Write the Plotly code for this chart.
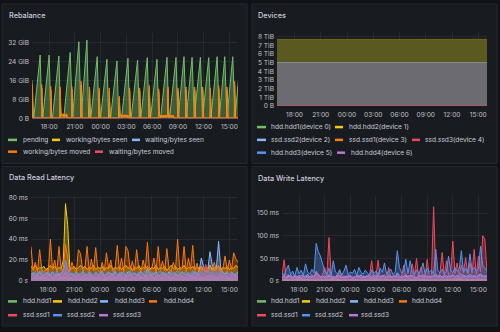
import plotly.graph_objects as go
from datetime import datetime, timedelta

W, H = 500, 332
BASE = datetime(2024, 5, 1, 16, 0)

GREEN = "#73BF69"; YELLOW = "#F2CC0C"; LBLUE = "#8AB8FF"; ORANGE = "#FF780A"
RED = "#F2495C"; BLUE = "#5794F2"; PURPLE = "#B877D9"
GRID = "rgba(204,204,220,0.08)"
TICK = "#c2c2cc"
TXT = "#ccccdc"
FONT = "Inter"

tick_hours = [2, 5, 8, 11, 14, 17, 20, 23]
tick_labels = ["18:00", "21:00", "00:00", "03:00", "06:00", "09:00", "12:00", "15:00"]

# ---------------- Rebalance (GiB) ----------------
pending_h = [0.00, 0.08,
             0.20, 0.95, 1.15, 1.25, 2.00, 2.20, 2.38, 3.13, 3.33,
             3.70, 4.45, 4.65, 4.72, 5.46, 5.66, 5.72, 6.40, 6.60,
             6.85, 7.60, 7.80, 7.98, 8.73, 8.93, 9.15, 9.90, 10.10,
             10.43, 11.18, 11.38, 11.55, 12.30, 12.50, 12.68, 13.43, 13.63,
             13.81, 14.56, 14.76, 14.98, 15.73, 15.93, 16.03, 16.78, 16.98,
             17.03, 17.71, 17.91, 17.96, 18.65, 18.85, 18.90, 19.62, 19.82,
             19.87, 20.59, 20.79, 20.84, 21.57, 21.77, 21.82, 22.46, 22.66,
             22.71, 23.39, 23.59, 23.64, 24.05]
pending_gib = [16.0, 0,
               0, 26.7, 0, 0, 26.7, 0, 0, 26.3, 0,
               0, 27.8, 0, 0, 32.3, 0, 0, 33.0, 0,
               0, 26.0, 0, 0, 24.9, 0, 0, 24.2, 0,
               0, 25.3, 0, 0, 24.6, 0, 0, 25.6, 0,
               0, 24.9, 0, 0, 25.7, 0, 0, 25.7, 0,
               0, 26.0, 0, 0, 25.7, 0, 0, 25.7, 0,
               0, 25.6, 0, 0, 26.0, 0, 0, 26.0, 0,
               0, 26.0, 0, 0, 16.0]

moved_h = [0.00, 0.04, 0.12, 1.11, 1.13, 1.21, 2.16, 2.18, 2.26,
           3.26, 3.28, 3.36, 4.06, 4.10, 4.62, 4.64, 4.72, 5.70, 5.72, 5.80,
           6.68, 6.70, 6.78, 7.81, 7.83, 7.91, 8.98, 9.00, 9.08,
           10.15, 10.17, 10.25, 11.20, 11.24, 11.35, 11.37, 11.45,
           12.52, 12.54, 12.62, 13.65, 13.67, 13.75,
           14.74, 14.76, 14.84, 15.80, 15.85, 15.93, 16.50, 16.54,
           16.98, 17.00, 17.08, 17.93, 17.95, 18.03, 18.93, 18.95, 19.03,
           19.86, 19.88, 19.96, 20.76, 20.78, 20.86, 21.73, 21.75, 21.83,
           22.70, 22.72, 22.80, 23.58, 23.60, 23.68, 24.05]
moved_gib = [8.0, 14.2, 0, 0, 14.2, 0, 0, 13.5, 0,
             0, 13.2, 1.7, 1.7, 0, 0, 13.5, 0, 0, 15.6, 0,
             0, 13.2, 0, 0, 12.8, 0, 0, 12.8, 0,
             0, 9.3, 1.25, 1.25, 0, 0, 12.8, 0,
             0, 12.8, 0, 0, 13.8, 0,
             0, 12.4, 1.1, 1.1, 13.2, 1.1, 1.1, 0,
             0, 12.8, 0, 0, 13.2, 0, 0, 13.2, 0,
             0, 13.2, 0, 0, 12.8, 0, 0, 13.8, 0,
             0, 13.2, 0, 0, 15.6, 0, 0]

seen_h = [0.00, 0.05, 0.15, 1.10, 1.14, 1.25, 2.15, 2.19, 2.30,
          3.25, 3.29, 3.38, 4.04, 4.10, 4.61, 4.65, 4.76, 5.69, 5.73, 5.84,
          6.67, 6.71, 6.82, 7.80, 7.84, 7.95, 8.97, 9.01, 9.12,
          10.14, 10.18, 10.27, 11.18, 11.24, 11.34, 11.38, 11.49,
          12.51, 12.55, 12.66, 13.64, 13.68, 13.79,
          14.73, 14.77, 14.86, 15.78, 15.86, 15.95, 16.48, 16.54,
          16.97, 17.01, 17.12, 17.92, 17.96, 18.07, 18.92, 18.96, 19.07,
          19.85, 19.89, 20.00, 20.75, 20.79, 20.90, 21.72, 21.76, 21.87,
          22.69, 22.73, 22.84, 23.57, 23.61, 23.72, 24.05]
seen_gib = [6.0, 13.0, 0, 0, 12.8, 0, 0, 12.0, 0,
            0, 12.0, 1.4, 1.4, 0, 0, 12.2, 0, 0, 14.0, 0,
            0, 12.0, 0, 0, 11.6, 0, 0, 11.5, 0,
            0, 8.5, 1.0, 1.0, 0, 0, 11.6, 0,
            0, 11.5, 0, 0, 12.4, 0,
            0, 11.2, 0.9, 0.9, 12.0, 0.9, 0.9, 0,
            0, 11.6, 0, 0, 12.0, 0, 0, 12.0, 0,
            0, 12.0, 0, 0, 11.5, 0, 0, 12.5, 0,
            0, 12.0, 0, 0, 14.0, 0, 0]

waiting_h = [0, 24.05]
waiting_seen_gib = [0, 0]
waiting_moved_gib = [0, 0]

# ---------------- Devices (TiB, stacked, hourly) ----------------
dev_hours = list(range(25))
dev_ssd3 = [0.01] * 25
dev_zero = [0.0] * 25
dev_hdd1 = [5.00, 5.00, 5.00, 5.00, 5.02, 4.99, 4.99, 4.99, 4.99, 4.99, 4.99, 4.99, 4.99,
            4.99, 4.99, 4.99, 4.99, 4.99, 4.99, 4.99, 5.00, 5.00, 5.00, 5.00, 5.00]
dev_hdd2 = [2.67, 2.67, 2.67, 2.67, 2.66, 2.69, 2.72, 2.72, 2.71, 2.69, 2.69, 2.69, 2.69,
            2.69, 2.69, 2.69, 2.69, 2.69, 2.69, 2.69, 2.68, 2.68, 2.68, 2.68, 2.68]

# ---------------- Data Read Latency (ms, 15-min samples) ----------------
r_hdd1 = [2, 3, 2, 2, 3, 2, 2, 3, 2, 2, 3, 2, 2, 3, 2, 2, 3, 2, 2, 3, 2, 2, 3, 2, 2]  # hourly
r_hdd2 = [14, 12, 15, 11, 13, 12, 14, 10, 13, 15,
          12, 14, 11, 13, 12, 20, 74, 54, 13, 12,
          14, 11, 13, 15, 12, 14, 11, 13, 12, 15,
          11, 13, 12, 14, 10, 13, 12, 15, 11, 13,
          12, 14, 11, 13, 15, 12, 14, 10, 13, 12,
          15, 11, 13, 12, 14, 11, 13, 12, 15, 11,
          13, 12, 14, 10, 13, 15, 12, 14, 11, 13,
          12, 15, 11, 13, 12, 14, 11, 13, 12, 14,
          10, 13, 12, 15, 11, 13, 12, 14, 11, 13,
          12, 14, 11, 13, 12, 15, 13]
r_hdd3 = [6, 8, 5, 7, 9, 6, 5, 8, 7, 6,
          9, 5, 7, 6, 8, 10, 15, 9, 6, 7,
          5, 8, 6, 7, 9, 5, 6, 8, 7, 5,
          8, 6, 7, 9, 5, 6, 8, 7, 6, 9,
          5, 7, 8, 6, 5, 9, 7, 6, 8, 5,
          7, 9, 6, 5, 12, 8, 6, 7, 9, 5,
          6, 8, 7, 5, 9, 6, 8, 7, 5, 6,
          9, 7, 6, 8, 5, 7, 9, 6, 10, 22,
          14, 9, 11, 28, 16, 10, 13, 38, 12, 8,
          7, 9, 6, 8, 7, 6, 9]
r_hdd4 = [33, 10, 18, 9, 30, 11, 8, 12, 9, 40,
          11, 20, 9, 33, 10, 12, 35, 22, 9, 18,
          11, 8, 30, 26, 10, 12, 33, 9, 21, 10,
          32, 11, 8, 18, 10, 27, 12, 20, 9, 11,
          34, 10, 22, 9, 33, 29, 11, 19, 10, 30,
          12, 9, 20, 11, 37, 10, 12, 22, 9, 33,
          11, 19, 10, 31, 12, 9, 18, 11, 40, 10,
          12, 33, 9, 22, 11, 34, 10, 17, 9, 14,
          11, 12, 9, 13, 10, 18, 11, 15, 9, 12,
          24, 10, 20, 11, 27, 21, 18]
r_ssd1 = [4, 6, 3, 5, 7, 4, 3, 6, 5, 4,
          6, 3, 5, 4, 7, 5, 18, 8, 4, 5,
          3, 6, 5, 4, 7, 3, 5, 6, 4, 3,
          6, 4, 5, 7, 3, 5, 6, 4, 5, 7,
          3, 5, 6, 4, 3, 7, 5, 4, 6, 3,
          5, 7, 4, 3, 6, 5, 4, 6, 7, 3,
          4, 6, 5, 3, 7, 4, 6, 5, 3, 4,
          7, 5, 4, 6, 3, 5, 7, 4, 8, 6,
          9, 16, 10, 7, 8, 6, 9, 7, 5, 6,
          4, 7, 5, 6, 4, 5, 6]
r_ssd2 = [7, 5, 9, 6, 8, 10, 5, 7, 9, 6,
          8, 5, 10, 7, 6, 9, 20, 12, 7, 8,
          6, 9, 7, 5, 10, 8, 6, 9, 7, 5,
          9, 6, 8, 10, 5, 7, 9, 6, 8, 10,
          5, 8, 7, 9, 6, 5, 10, 7, 8, 6,
          9, 5, 7, 10, 8, 6, 9, 7, 5, 8,
          10, 6, 8, 7, 5, 9, 6, 8, 10, 7,
          5, 8, 9, 6, 7, 10, 5, 8, 7, 9,
          6, 8, 10, 7, 9, 5, 8, 6, 9, 7,
          5, 8, 6, 9, 7, 5, 8]
r_ssd3 = [4, 5, 3, 6, 4, 5, 3, 4, 6, 5,
          3, 4, 5, 6, 3, 5, 8, 6, 4, 3,
          5, 4, 6, 3, 5, 4, 3, 6, 5, 4,
          3, 5, 4, 6, 5, 3, 4, 5, 6, 3,
          4, 6, 5, 3, 4, 5, 6, 4, 3, 5,
          6, 4, 3, 5, 4, 6, 5, 3, 4, 5,
          3, 5, 6, 4, 5, 3, 4, 6, 5, 4,
          5, 3, 4, 6, 4, 5, 3, 5, 6, 4,
          3, 5, 4, 6, 5, 4, 3, 5, 6, 4,
          5, 4, 3, 6, 5, 4, 5]

# ---------------- Data Write Latency (ms) ----------------
w_hdd1 = [2, 1, 2, 3, 2, 1, 2, 2, 3, 2, 1, 2, 2, 3, 2, 1, 2, 2, 3, 2, 2, 1, 2, 3, 2]  # hourly
w_hdd2 = [3, 2, 4, 3, 2, 3, 4, 2, 3, 3, 2, 4, 3, 2, 3, 4, 2, 3, 3, 2, 4, 3, 2, 3, 3]  # hourly
w_hdd4 = [4, 3, 5, 2, 4, 3, 5, 4, 2, 3, 4, 5, 3, 2, 4, 3, 5, 4, 3, 2, 4, 5, 3, 4, 3]  # hourly
w_hdd3 = [8, 12, 6, 10, 14, 7, 9, 11, 6, 13,
          10, 8, 15, 7, 12, 9, 18, 14, 8, 11,
          7, 13, 9, 11, 6, 10, 14, 8, 12, 7,
          11, 9, 13, 6, 10, 12, 8, 14, 7, 9,
          12, 7, 10, 14, 8, 11, 9, 13, 6, 10,
          14, 8, 11, 9, 18, 12, 7, 10, 15, 8,
          11, 13, 9, 7, 12, 10, 14, 8, 11, 9,
          10, 12, 16, 8, 11, 9, 13, 7, 12, 10,
          14, 9, 11, 13, 16, 10, 12, 8, 15, 11,
          12, 10, 13, 16, 11, 9, 12]
w_ssd1 = [12, 47, 8, 15, 6, 10, 14, 7, 11, 9,
          13, 6, 10, 8, 15, 7, 22, 12, 9, 14,
          30, 11, 96, 13, 8, 10, 7, 25, 9, 12,
          6, 14, 8, 11, 7, 13, 9, 6, 12, 8,
          10, 14, 45, 9, 12, 46, 8, 11, 14, 9,
          30, 7, 12, 10, 15, 8, 11, 35, 9, 13,
          10, 38, 12, 50, 9, 30, 14, 11, 48, 10,
          13, 164, 15, 11, 18, 63, 12, 45, 14, 20,
          88, 16, 40, 13, 35, 18, 52, 15, 40, 17,
          70, 14, 55, 20, 100, 92, 18]
w_ssd2 = [18, 12, 25, 35, 14, 22, 10, 30, 16, 24,
          12, 38, 20, 15, 26, 18, 83, 65, 55, 40,
          22, 15, 28, 12, 45, 20, 16, 25, 13, 22,
          35, 14, 20, 17, 26, 12, 30, 19, 15, 24,
          18, 12, 25, 16, 22, 14, 28, 19, 40, 15,
          22, 26, 14, 20, 67, 30, 18, 24, 48, 16,
          45, 20, 14, 25, 18, 22, 40, 16, 28, 20,
          24, 15, 70, 22, 18, 26, 16, 20, 55, 24,
          18, 30, 22, 26, 67, 20, 28, 18, 60, 24,
          30, 22, 26, 77, 35, 28, 24]
w_ssd3 = [8, 10, 6, 12, 9, 7, 11, 8, 13, 6,
          9, 12, 7, 10, 8, 11, 20, 15, 10, 8,
          12, 7, 14, 9, 11, 8, 10, 13, 7, 9,
          11, 8, 12, 6, 10, 9, 13, 7, 11, 8,
          10, 12, 9, 7, 11, 13, 8, 10, 12, 7,
          9, 11, 8, 13, 10, 7, 12, 9, 11, 8,
          13, 9, 10, 7, 12, 11, 8, 14, 9, 10,
          8, 12, 11, 9, 13, 7, 10, 12, 9, 11,
          14, 10, 12, 8, 11, 13, 9, 12, 10, 8,
          12, 9, 11, 13, 10, 12, 9]

for arr in [r_hdd2, r_hdd3, r_hdd4, r_ssd1, r_ssd2, r_ssd3, w_hdd3, w_ssd1, w_ssd2, w_ssd3]:
    assert len(arr) == 97, len(arr)
assert len(pending_h) == len(pending_gib)
assert len(moved_h) == len(moved_gib), (len(moved_h), len(moved_gib))
assert len(seen_h) == len(seen_gib), (len(seen_h), len(seen_gib))


def hours_to_t(hs):
    return [BASE + timedelta(hours=h) for h in hs]


def series_times(vals, step_min):
    return [BASE + timedelta(minutes=step_min * k) for k in range(len(vals))]


def rgba(hexc, a):
    hexc = hexc.lstrip("#")
    r, g, b = int(hexc[0:2], 16), int(hexc[2:4], 16), int(hexc[4:6], 16)
    return f"rgba({r},{g},{b},{a})"


fig = go.Figure()


def area(x, y, color, axis, alpha=0.35, width=1, fillcolor=None, fill="tozeroy"):
    fig.add_trace(go.Scatter(
        x=x, y=y, mode="lines", xaxis="x" + axis, yaxis="y" + axis,
        line=dict(color=color, width=width), fill=fill,
        fillcolor=fillcolor if fillcolor else rgba(color, alpha),
        showlegend=False, hoverinfo="skip"))


# Rebalance
area(hours_to_t(pending_h), pending_gib, GREEN, "", 0.4)
area(hours_to_t(seen_h), seen_gib, YELLOW, "", 0.35)
area(hours_to_t(waiting_h), waiting_seen_gib, LBLUE, "", 0.3)
area(hours_to_t(moved_h), moved_gib, ORANGE, "", 0.4)
area(hours_to_t(waiting_h), waiting_moved_gib, RED, "", 0.3)

# Devices (stacked)
dev_t = hours_to_t(dev_hours)
for vals, col, fc in [(dev_zero, GREEN, "rgba(0,0,0,0)"), (dev_zero, LBLUE, "rgba(0,0,0,0)"),
                      (dev_zero, ORANGE, "rgba(0,0,0,0)"), (dev_zero, BLUE, "rgba(0,0,0,0)"),
                      (dev_zero, PURPLE, "rgba(0,0,0,0)"), (dev_ssd3, RED, "rgba(242,73,92,0.3)"),
                      (dev_hdd1, "#8c8c94", "#6b6b71"), (dev_hdd2, "#6e6a1c", "#5a591f")]:
    fig.add_trace(go.Scatter(
        x=dev_t, y=vals, mode="lines", xaxis="x2", yaxis="y2", stackgroup="dev",
        line=dict(color=col, width=1), fillcolor=fc, showlegend=False, hoverinfo="skip"))

# Read latency
t15 = series_times(r_hdd2, 15)
area(series_times(r_hdd1, 60), r_hdd1, GREEN, "3")
area(t15, r_hdd2, YELLOW, "3")
area(t15, r_hdd3, LBLUE, "3")
area(t15, r_hdd4, ORANGE, "3", 0.3)
area(t15, r_ssd1, RED, "3")
area(t15, r_ssd2, BLUE, "3")
area(t15, r_ssd3, PURPLE, "3")

# Write latency
area(series_times(w_hdd1, 60), w_hdd1, GREEN, "4")
area(series_times(w_hdd2, 60), w_hdd2, YELLOW, "4")
area(t15, w_hdd3, LBLUE, "4")
area(series_times(w_hdd4, 60), w_hdd4, ORANGE, "4")
area(t15, w_ssd1, RED, "4")
area(t15, w_ssd2, BLUE, "4")
area(t15, w_ssd3, PURPLE, "4")

TSIZE = 6.6


def xax(x0, x1, anchor):
    return dict(domain=[x0 / W, x1 / W], anchor=anchor,
                range=[BASE, BASE + timedelta(hours=24)],
                tickvals=hours_to_t(tick_hours), ticktext=tick_labels,
                showgrid=True, gridcolor=GRID, gridwidth=1, zeroline=False,
                showline=False, ticks="", ticklabelstandoff=3,
                tickfont=dict(family=FONT, size=TSIZE, color=TICK), fixedrange=True)


def yax(top, bottom, anchor, rng, vals, texts):
    return dict(domain=[1 - bottom / H, 1 - top / H], anchor=anchor, range=rng,
                tickvals=vals, ticktext=texts, showgrid=True, gridcolor=GRID,
                gridwidth=1, zeroline=False, showline=False, ticks="",
                ticklabelstandoff=2,
                tickfont=dict(family=FONT, size=TSIZE, color=TICK), fixedrange=True)


reb_ticks = [0, 8, 16, 24, 32]
reb_labels = ["0 B", "8 GiB", "16 GiB", "24 GiB", "32 GiB"]
dev_ticks = [0, 1, 2, 3, 4, 5, 6, 7, 8]
dev_labels = ["0 B", "1 TiB", "2 TiB", "3 TiB", "4 TiB", "5 TiB", "6 TiB", "7 TiB", "8 TiB"]
read_ticks = [0, 20, 40, 60, 80]
read_labels = ["0 s", "20 ms", "40 ms", "60 ms", "80 ms"]
write_ticks = [0, 50, 100, 150]
write_labels = ["0 s", "50 ms", "100 ms", "150 ms"]

shapes = []
annotations = []

# panel backgrounds
for (x0, y0, x1, y1) in [(2, 3, 247, 165), (252, 3, 497, 165), (2, 168, 247, 330), (252, 168, 497, 330)]:
    shapes.append(dict(type="rect", xref="paper", yref="paper", x0=x0 / W, x1=x1 / W,
                       y0=1 - y1 / H, y1=1 - y0 / H, fillcolor="#181b1f",
                       line=dict(color="#25282e", width=1), layer="below"))

for (txt, x, y) in [("Rebalance", 7, 15), ("Devices", 256, 15),
                    ("Data Read Latency", 7, 179), ("Data Write Latency", 256, 180)]:
    annotations.append(dict(text=txt, x=x / W, y=1 - y / H, xref="paper", yref="paper",
                            xanchor="left", yanchor="middle", showarrow=False,
                            font=dict(family=FONT, size=7.3, color=TXT, weight=500)))

legend_items = [
    ("pending", GREEN, 8, 17, 141, 21),
    ("working/bytes seen", YELLOW, 52, 60, 141, 64),
    ("waiting/bytes seen", LBLUE, 132, 140, 141, 143),
    ("working/bytes moved", ORANGE, 8, 17, 153, 21),
    ("waiting/bytes moved", RED, 95, 103, 153, 107),
    ("hdd.hdd1(device 0)", GREEN, 257, 266, 128, 269),
    ("hdd.hdd2(device 1)", YELLOW, 335, 343, 128, 347),
    ("ssd.ssd2(device 2)", LBLUE, 257, 266, 141, 269),
    ("ssd.ssd1(device 3)", ORANGE, 335, 343, 141, 347),
    ("ssd.ssd3(device 4)", RED, 412, 420, 141, 423),
    ("hdd.hdd3(device 5)", BLUE, 257, 266, 154, 269),
    ("hdd.hdd4(device 6)", PURPLE, 337, 345, 154, 349),
    ("hdd.hdd1", GREEN, 8, 17, 305, 21),
    ("hdd.hdd2", YELLOW, 53, 62, 305, 66),
    ("hdd.hdd3", LBLUE, 100, 108, 305, 113),
    ("hdd.hdd4", ORANGE, 149, 157, 305, 162),
    ("ssd.ssd1", RED, 8, 17, 319, 21),
    ("ssd.ssd2", BLUE, 53, 62, 319, 65),
    ("ssd.ssd3", PURPLE, 99, 108, 319, 111),
    ("hdd.hdd1", GREEN, 257, 266, 305, 269),
    ("hdd.hdd2", YELLOW, 302, 310, 305, 314),
    ("hdd.hdd3", LBLUE, 350, 358, 305, 362),
    ("hdd.hdd4", ORANGE, 399, 407, 305, 410),
    ("ssd.ssd1", RED, 257, 266, 319, 269),
    ("ssd.ssd2", BLUE, 302, 310, 319, 313),
    ("ssd.ssd3", PURPLE, 349, 358, 319, 359),
]
for (txt, col, sx0, sx1, y, tx) in legend_items:
    shapes.append(dict(type="line", xref="paper", yref="paper", x0=sx0 / W, x1=sx1 / W,
                       y0=1 - y / H, y1=1 - y / H, line=dict(color=col, width=2.5)))
    annotations.append(dict(text=txt, x=tx / W, y=1 - y / H, xref="paper", yref="paper",
                            xanchor="left", yanchor="middle", showarrow=False,
                            font=dict(family=FONT, size=6.6, color=TXT)))

fig.update_layout(
    width=W, height=H, margin=dict(l=0, r=0, t=0, b=0),
    paper_bgcolor="#111217", plot_bgcolor="rgba(0,0,0,0)",
    showlegend=False, shapes=shapes, annotations=annotations,
    xaxis=xax(32, 238, "y"), yaxis=yax(32, 119, "x", [0, 36.2], reb_ticks, reb_labels),
    xaxis2=xax(277, 487, "y2"), yaxis2=yax(31, 106.7, "x2", [0, 8.59], dev_ticks, dev_labels),
    xaxis3=xax(31, 238, "y3"), yaxis3=yax(197, 284.3, "x3", [0, 82.2], read_ticks, read_labels),
    xaxis4=xax(282, 487, "y4"), yaxis4=yax(197, 284.3, "x4", [0, 189.8], write_ticks, write_labels),
    font=dict(family=FONT, color=TXT),
)

fig.write_html("out.html", config={"displayModeBar": False})
